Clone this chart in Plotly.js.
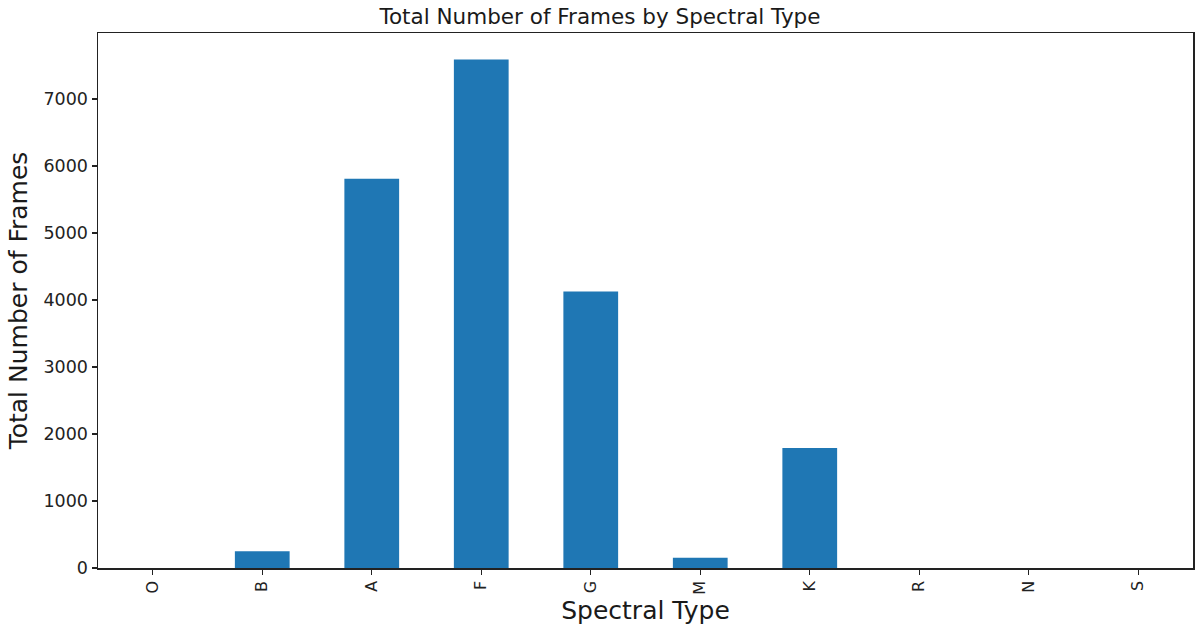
<!DOCTYPE html>
<html>
<head>
<meta charset="utf-8">
<script src="https://cdn.plot.ly/plotly-3.0.1.min.js"></script>
<style>
  html, body { margin: 0; padding: 0; background: #fff; }
  #chart { width: 1200px; height: 633px; }
</style>
</head>
<body>
<div id="chart"></div>
<script>
// Frames per spectral type
const spectralTypes = ['O', 'B', 'A', 'F', 'G', 'M', 'K', 'R', 'N', 'S'];
const frameCounts = [0, 250, 5810, 7590, 4125, 152, 1790, 0, 0, 0];
const yTicks = [0, 1000, 2000, 3000, 4000, 5000, 6000, 7000];

const font = 'DejaVu Sans, sans-serif';

let trace = {
    x: spectralTypes,
    y: frameCounts,
    type: 'bar',
    width: 0.5,
    marker: { color: '#1f77b4', line: { width: 0 } },
    hoverinfo: 'x+y'
};

let layout = {
    width: 1200,
    height: 633,
    margin: { l: 98, r: 7, t: 33, b: 65 },
    paper_bgcolor: '#fff',
    plot_bgcolor: '#fff',
    showlegend: false,
    title: {
        text: 'Total Number of Frames by Spectral Type',
        font: { family: font, size: 21.5, color: '#1a1a1a' },
        x: 0.5, xanchor: 'center',
        y: 1 - 16 / 633, yanchor: 'middle'
    },
    xaxis: {
        type: 'category',
        range: [-0.5, 9.5],
        tickangle: -90,
        ticks: 'outside', ticklen: 5, tickwidth: 1.2, tickcolor: '#222',
        tickfont: { family: font, size: 16, color: '#222' },
        showline: true, linecolor: '#222', linewidth: 1.5, mirror: true,
        showgrid: false, zeroline: false,
        title: { text: 'Spectral Type', font: { family: font, size: 25, color: '#1a1a1a' }, standoff: 8 }
    },
    yaxis: {
        range: [0, 7985],
        tickvals: yTicks,
        ticktext: yTicks.map(String),
        ticks: 'outside', ticklen: 5, tickwidth: 1.2, tickcolor: '#222',
        tickfont: { family: font, size: 17.5, color: '#222' },
        showline: true, linecolor: '#222', linewidth: 1.5, mirror: true,
        showgrid: false, zeroline: false,
        title: { text: 'Total Number of Frames', font: { family: font, size: 25, color: '#1a1a1a' }, standoff: 8 }
    },
    bargap: 0.5
};

Plotly.newPlot('chart', [trace], layout, { displayModeBar: false, staticPlot: true });
</script>
</body>
</html>
